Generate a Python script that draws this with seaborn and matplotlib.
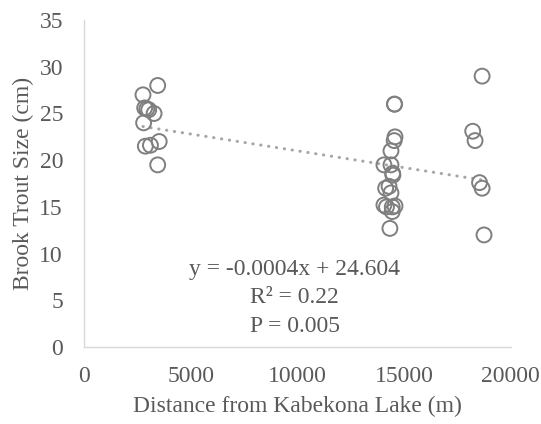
import matplotlib
matplotlib.use('Agg')
import numpy as np
import pandas as pd
import seaborn as sns
import matplotlib.pyplot as plt

# --- Styling ---
sns.set_style("white")
plt.rcParams["font.family"] = ["Liberation Serif", "DejaVu Serif"]

text_grey = '#595959'
marker_grey = '#7f7f7f'
trend_grey = '#a6a6a6'
fsize = 17

# Data (distance in m, trout size in cm)
distance = [2770, 3460, 2850, 3040, 2950, 3290, 2800, 2880, 3120, 3530, 3460,
            14550, 14560, 14580, 14540, 14390, 14060, 14390, 14470, 14480,
            14140, 14300, 14390, 14060, 14180, 14450, 14580, 14450, 14340,
            18660, 18220, 18330, 18540, 18660, 18750]
size_cm = [27.0, 28.0, 25.6, 25.4, 25.5, 25.0, 24.0, 21.5, 21.6, 22.0, 19.5,
           26.0, 26.0, 22.5, 22.1, 21.0, 19.5, 19.5, 18.6, 18.4,
           17.0, 17.2, 16.5, 15.2, 15.0, 15.0, 15.1, 14.5, 12.7,
           29.0, 23.1, 22.1, 17.6, 17.0, 12.0]

# Excel linear trendline and its label
slope = -0.00036
intercept = 24.604
equation_lines = ['y = -0.0004x + 24.604', 'R² = 0.22', 'P = 0.005']
equation_baselines = [7.75, 4.72, 1.62]

df = pd.DataFrame({'distance': distance, 'size': size_cm})
trend_x = np.array([df['distance'].min(), df['distance'].max()])
trend = pd.DataFrame({'distance': trend_x, 'size': intercept + slope * trend_x})

fig = plt.figure(figsize=(5.41, 4.24), dpi=100)
ax = fig.add_axes([0.155, 0.1816, 0.789, 0.771])

sns.lineplot(data=trend, x='distance', y='size', ax=ax, color=trend_grey,
             linewidth=2.2, linestyle=(0, (0.1, 2.5)), dash_capstyle='round', zorder=1)
sns.scatterplot(data=df, x='distance', y='size', ax=ax, marker='o', s=115,
                facecolor='none', edgecolor=marker_grey, linewidth=1.4, zorder=2)

ax.set_xlim(0, 20000)
ax.set_ylim(0, 35)
ax.set_xticks(range(0, 20001, 5000))
ax.set_yticks(range(0, 36, 5))
ax.tick_params(length=0, labelsize=fsize, labelcolor=text_grey)
ax.tick_params(axis='x', pad=14)
ax.tick_params(axis='y', pad=15)

for side in ['top', 'right']:
    ax.spines[side].set_visible(False)
for side in ['left', 'bottom']:
    ax.spines[side].set_color('#d9d9d9')
    ax.spines[side].set_linewidth(1.0)

ax.set_xlabel('Distance from Kabekona Lake (m)', fontsize=fsize, color=text_grey, labelpad=6)
ax.set_ylabel('Brook Trout Size (cm)', fontsize=fsize, color=text_grey, labelpad=4)

for line, base in zip(equation_lines, equation_baselines):
    ax.text(9880, base, line, ha='center', va='baseline', fontsize=fsize, color=text_grey)

fig.savefig('out.png', dpi=100)
